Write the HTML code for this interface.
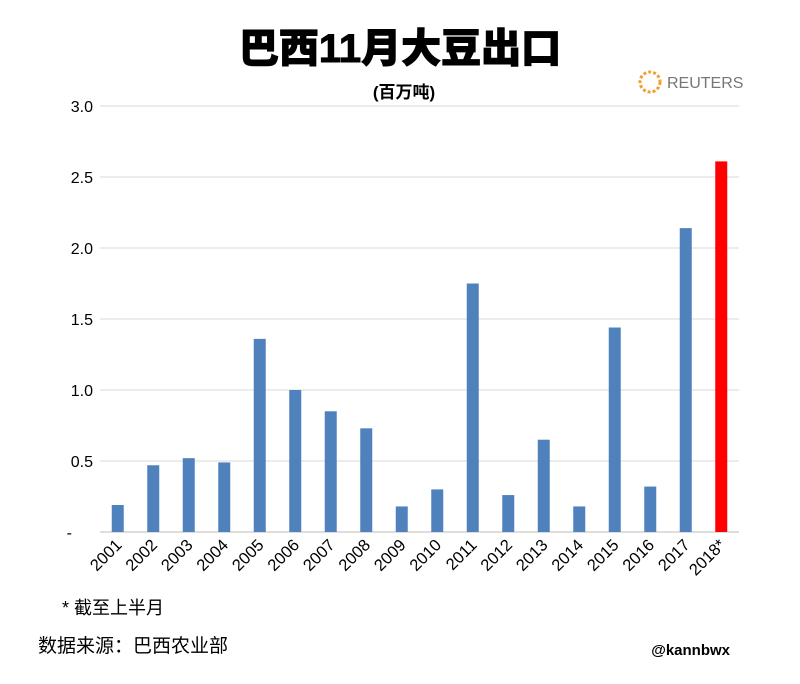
<!DOCTYPE html>
<html><head><meta charset="utf-8"><style>
body{margin:0;background:#fff;font-family:"Liberation Sans","Noto Sans CJK SC",sans-serif;}
</style></head><body>
<svg width="800" height="679" viewBox="0 0 800 679" xmlns="http://www.w3.org/2000/svg" font-family="Liberation Sans, Noto Sans CJK SC, sans-serif">
<text x="400" y="62" text-anchor="middle" font-size="40" font-weight="900" stroke="#000" stroke-width="1" fill="#000">巴西11月大豆出口</text>
<text x="404" y="98" text-anchor="middle" font-size="17" font-weight="bold" fill="#000">(百万吨)</text>
<g>
<circle cx="650" cy="82" r="10" fill="none" stroke="#f0a030" stroke-width="3" stroke-dasharray="3 2"/>
<text x="667" y="88" font-size="16" fill="#777">REUTERS</text>
</g>
<g id="grid"></g><g id="bars"></g><g id="labels"></g>
<text x="62" y="614" font-size="18" fill="#000">* 截至上半月</text>
<text x="38" y="652" font-size="19" fill="#000">数据来源：巴西农业部</text>
<text x="730" y="655" text-anchor="end" font-size="15" font-weight="bold" fill="#000">@kannbwx</text>
</svg>
<script>
const categories=["2001","2002","2003","2004","2005","2006","2007","2008","2009","2010","2011","2012","2013","2014","2015","2016","2017","2018*"];
const values=[0.19,0.47,0.52,0.49,1.36,1.0,0.85,0.73,0.18,0.30,1.75,0.26,0.65,0.18,1.44,0.32,2.14,2.61];
const yTicks=[0,0.5,1.0,1.5,2.0,2.5,3.0];
const yTickLabels=["-","0.5","1.0","1.5","2.0","2.5","3.0"];
const NS="http://www.w3.org/2000/svg";
const x0=100,x1=739,y0=532,yMax=3.0,yTop=106;
const band=(x1-x0)/categories.length;
const yS=v=>y0-(v/yMax)*(y0-yTop);
const xC=i=>x0+band*(i+0.5);
const g=document.getElementById('grid'),b=document.getElementById('bars'),l=document.getElementById('labels');
yTicks.forEach((t,i)=>{
 const ln=document.createElementNS(NS,'line');
 ln.setAttribute('x1',x0);ln.setAttribute('x2',x1);ln.setAttribute('y1',yS(t));ln.setAttribute('y2',yS(t));
 ln.setAttribute('stroke',t===0?'#bbb':'#d9d9d9');ln.setAttribute('stroke-width',1);
 
 
 g.appendChild(ln);
 const tx=document.createElementNS(NS,'text');
 tx.setAttribute('x',i===0?72:93);tx.setAttribute('y',yS(t)+6);tx.setAttribute('text-anchor','end');
 tx.setAttribute('font-size','16');tx.setAttribute('fill','#000');tx.textContent=yTickLabels[i];
 
 
 g.appendChild(tx);
});
const bw=12;
values.forEach((v,i)=>{
 const r=document.createElementNS(NS,'rect');
 r.setAttribute('x',xC(i)-bw/2);r.setAttribute('y',yS(v));r.setAttribute('width',bw);r.setAttribute('height',y0-yS(v));
 r.setAttribute('fill',i===values.length-1?'#ff0000':'#4f81bd');
 
 
 b.appendChild(r);
 const tx=document.createElementNS(NS,'text');
 const cx=xC(i)+5,cy=y0+14;
 tx.setAttribute('x',cx);tx.setAttribute('y',cy);tx.setAttribute('text-anchor','end');
 tx.setAttribute('transform','rotate(-45 '+cx+' '+cy+')');
 tx.setAttribute('font-size','16.5');tx.setAttribute('fill','#000');tx.textContent=categories[i];
 
 
 l.appendChild(tx);
});
</script>
</body></html>
